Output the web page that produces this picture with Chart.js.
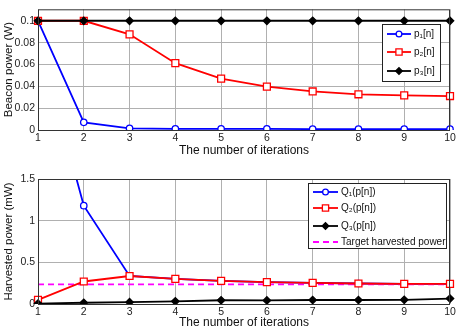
<!DOCTYPE html>
<html>
<head>
<script src="https://cdn.jsdelivr.net/npm/chart.js"></script>
<style>
  body { margin: 0; background: #fff; }
  #wrap { position: relative; width: 458px; height: 330px; }
  #top { position: absolute; left: 0; top: 0; }
  #bottom { position: absolute; left: 0; top: 160px; }
</style>
</head>
<body>
<div id="wrap">
  <canvas id="top" width="458" height="160"></canvas>
  <canvas id="bottom" width="458" height="170"></canvas>
</div>
<script>
// iterations
const iterations = ['1', '2', '3', '4', '5', '6', '7', '8', '9', '10'];

// beacon power (W)
const p1 = [0.1, 0.007, 0.0015, 0.001, 0.001, 0.001, 0.0008, 0.0008, 0.0008, 0.0008];
const p2 = [0.1, 0.1, 0.0876, 0.0612, 0.047, 0.0397, 0.0353, 0.0327, 0.0317, 0.0311];
const p3 = [0.1, 0.1, 0.1, 0.1, 0.1, 0.1, 0.1, 0.1, 0.1, 0.1];
const topTicks = [0, 0.02, 0.04, 0.06, 0.08, 0.1];

// harvested power (mW)
const q1 = [3.2, 1.18, 0.336, 0.302, 0.278, 0.262, 0.254, 0.246, 0.242, 0.242];
const q2 = [0.05, 0.27, 0.336, 0.302, 0.278, 0.262, 0.254, 0.246, 0.242, 0.242];
const q3 = [0.005, 0.015, 0.022, 0.032, 0.045, 0.043, 0.048, 0.048, 0.05, 0.065];
const target = [0.236, 0.236, 0.236, 0.236, 0.236, 0.236, 0.236, 0.236, 0.236, 0.236];
const bottomTicks = [0, 0.5, 1, 1.5];

const FONT = 'Liberation Sans, Arial, sans-serif';
const grid = { color: '#b0b0b0', borderDash: [1, 2], drawTicks: false, lineWidth: 1 };
const radius = { circle: 3.2, rect: 4.9, rectRot: 3.7 };

// later series drawn on top, like the original
function series(label, data, color, style, fill, order) {
    return {
        label: label, data: data, borderColor: color, backgroundColor: fill,
        borderWidth: 1.8, pointStyle: style, pointRadius: radius[style],
        pointBorderColor: color, pointBackgroundColor: fill, pointBorderWidth: 1.3,
        tension: 0, order: order
    };
}

// box around plot + legend inside plot
const boxLegend = {
    id: 'boxLegend',
    afterDatasetsDraw(chart, args, opts) {
        const ctx = chart.ctx;
        const a = chart.chartArea;
        ctx.save();
        ctx.strokeStyle = '#333';
        ctx.lineWidth = 1;
        ctx.strokeRect(a.left + 0.5, a.top + 0.5, a.right - a.left - 1, a.bottom - a.top);

        const L = opts.box;
        ctx.fillStyle = '#fff';
        ctx.fillRect(L.x, L.y, L.w, L.h);
        ctx.strokeStyle = '#222';
        ctx.strokeRect(L.x + 0.5, L.y + 0.5, L.w, L.h);
        ctx.font = '10px ' + FONT;
        ctx.textBaseline = 'middle';
        chart.data.datasets.forEach((ds, i) => {
            const y = L.y + opts.rows[i];
            const x0 = L.x + 5, x1 = L.x + opts.lineLen;
            ctx.beginPath();
            ctx.strokeStyle = ds.borderColor;
            ctx.lineWidth = ds.borderWidth;
            ctx.setLineDash(ds.borderDash || []);
            ctx.moveTo(x0, y); ctx.lineTo(x1, y);
            ctx.stroke();
            ctx.setLineDash([]);
            if (ds.pointRadius > 0) {
                ctx.fillStyle = ds.pointBackgroundColor;
                ctx.strokeStyle = ds.pointBorderColor;
                ctx.lineWidth = ds.pointBorderWidth;
                Chart.helpers.drawPoint(ctx, { pointStyle: ds.pointStyle, radius: ds.pointRadius * 0.9, borderWidth: ds.pointBorderWidth }, (x0 + x1) / 2, y);
            }
            ctx.fillStyle = '#111';
            ctx.fillText(ds.label, x1 + 3, y + 0.5);
        });
        ctx.restore();
    }
};

function makeOptions(yMin, yMax, ticks, yTitle, legendOpts, pad, xH) {
    return {
        responsive: false,
        animation: false,
        layout: { padding: pad },
        plugins: { legend: { display: false }, tooltip: { enabled: false }, boxLegend: legendOpts },
        scales: {
            x: {
                type: 'category', offset: false,
                grid: grid, border: { display: false },
                ticks: { color: '#222', font: { family: FONT, size: 10.5 }, padding: 2, maxRotation: 0, autoSkip: false },
                title: { display: true, text: 'The number of iterations', color: '#111', font: { family: FONT, size: 12 }, padding: { top: 0, bottom: 0 } },
                afterFit(s) { s.height = xH; }
            },
            y: {
                min: yMin, max: yMax,
                grid: grid, border: { display: false },
                afterBuildTicks(s) { s.ticks = ticks.map(v => ({ value: v })); },
                ticks: { color: '#222', font: { family: FONT, size: 10.5 }, padding: 3, callback: v => String(+v.toFixed(4)) },
                title: { display: true, text: yTitle, color: '#111', font: { family: FONT, size: 11.5 }, padding: { top: 2, bottom: 0 } },
                afterFit(s) { s.width = 38; }
            }
        }
    };
}

new Chart(document.getElementById('top'), {
    type: 'line',
    data: {
        labels: iterations,
        datasets: [
            series('p\u2081[n]', p1, '#0000ff', 'circle', '#ffffff', 3),
            series('p\u2082[n]', p2, '#ff0000', 'rect', '#ffffff', 2),
            series('p\u2083[n]', p3, '#000000', 'rectRot', '#000000', 1)
        ]
    },
    options: makeOptions(0, 0.1105, topTicks, 'Beacon power (W)',
        { box: { x: 382, y: 24, w: 58, h: 57 }, rows: [10, 28, 47], lineLen: 29 },
        { top: 5, right: 8, left: 0, bottom: 2 }, 28),
    plugins: [boxLegend]
});

const tgt = {
    label: 'Target harvested power', data: target, borderColor: '#ff00ff', backgroundColor: '#ff00ff',
    borderWidth: 1.8, borderDash: [6, 4], pointRadius: 0, order: 3
};

new Chart(document.getElementById('bottom'), {
    type: 'line',
    data: {
        labels: iterations,
        datasets: [
            series('Q\u2081(p[n])', q1, '#0000ff', 'circle', '#ffffff', 4),
            series('Q\u2082(p[n])', q2, '#ff0000', 'rect', '#ffffff', 2),
            series('Q\u2083(p[n])', q3, '#000000', 'rectRot', '#000000', 1),
            tgt
        ]
    },
    options: makeOptions(0, 1.5, bottomTicks, 'Harvested power (mW)',
        { box: { x: 308, y: 23, w: 138, h: 65 }, rows: [9, 25, 43, 59], lineLen: 30 },
        { top: 19, right: 8, left: 0, bottom: 0 }, 26),
    plugins: [boxLegend]
});
</script>
</body>
</html>
